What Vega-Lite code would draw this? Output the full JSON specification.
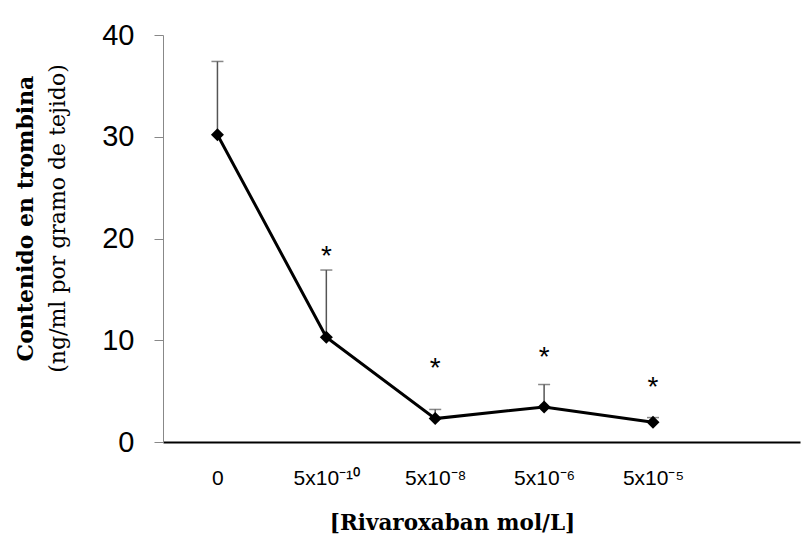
{
  "$schema": "https://vega.github.io/schema/vega-lite/v6.json",
  "width": 637,
  "height": 407,
  "autosize": {"type": "none"},
  "padding": {"left": 163, "top": 35, "right": 4, "bottom": 97},
  "background": "white",
  "config": {"view": {"stroke": null}},
  "title": {
    "text": "Contenido en trombina",
    "subtitle": "(ng/ml por gramo de tejido)",
    "orient": "left",
    "anchor": "middle",
    "font": "DejaVu Serif",
    "fontSize": 22,
    "fontWeight": "bold",
    "color": "black",
    "subtitleFont": "DejaVu Serif",
    "subtitleFontSize": 22,
    "subtitleFontWeight": "normal",
    "subtitleColor": "black",
    "subtitlePadding": 10,
    "offset": 32,
    "dx": 20
  },
  "data": {
    "values": [
      {"i": 1, "mean": 30.2, "upper": 37.4, "star": null},
      {"i": 2, "mean": 10.3, "upper": 16.9, "star": 18.7},
      {"i": 3, "mean": 2.3, "upper": 3.2, "star": 7.7},
      {"i": 4, "mean": 3.45, "upper": 5.65, "star": 8.7},
      {"i": 5, "mean": 1.95, "upper": 2.4, "star": 5.75}
    ]
  },
  "encoding": {
    "x": {
      "field": "i",
      "type": "quantitative",
      "scale": {"domain": [0.5, 6.35], "nice": false, "zero": false},
      "axis": {
        "values": [1, 2, 3, 4, 5],
        "labelExpr": "['0','5x10⁻¹⁰','5x10⁻⁸','5x10⁻⁶','5x10⁻⁵'][datum.value-1]",
        "grid": false,
        "ticks": false,
        "tickSize": 0,
        "domainColor": "black",
        "domainWidth": 2,
        "labelFont": "Liberation Sans",
        "labelFontSize": 21,
        "labelColor": "black",
        "labelPadding": 25,
        "labelOverlap": false,
        "labelFlush": false,
        "labelBound": false,
        "title": "[Rivaroxaban mol/L]",
        "titleFont": "DejaVu Serif",
        "titleFontSize": 21.5,
        "titleFontWeight": "bold",
        "titleColor": "black",
        "titleX": 289,
        "titleY": 87,
        "titleAlign": "center",
        "titleBaseline": "alphabetic"
      }
    }
  },
  "layer": [
    {
      "mark": {"type": "rule", "color": "#555555", "strokeWidth": 1.5},
      "encoding": {
        "y": {"field": "mean", "type": "quantitative", "scale": {"domain": [0, 40], "nice": false},
          "axis": {
            "values": [0, 10, 20, 30, 40],
            "grid": false,
            "domainColor": "#888888",
            "domainWidth": 1,
            "tickColor": "#888888",
            "tickSize": 9,
            "labelFont": "Liberation Sans",
            "labelFontSize": 29,
            "labelColor": "black",
            "labelPadding": 20,
            "title": null
          }
        },
        "y2": {"field": "upper"}
      }
    },
    {
      "mark": {"type": "tick", "orient": "horizontal", "color": "#555555", "size": 12, "thickness": 1.5},
      "encoding": {"y": {"field": "upper", "type": "quantitative"}}
    },
    {
      "mark": {"type": "line", "color": "black", "strokeWidth": 3},
      "encoding": {"y": {"field": "mean", "type": "quantitative"}}
    },
    {
      "mark": {"type": "point", "shape": "diamond", "filled": true, "size": 170, "color": "black", "opacity": 1},
      "encoding": {"y": {"field": "mean", "type": "quantitative"}}
    },
    {
      "transform": [{"filter": "datum.star != null"}],
      "mark": {"type": "text", "font": "Liberation Sans", "fontSize": 28, "color": "black", "baseline": "alphabetic", "dy": 13},
      "encoding": {
        "y": {"field": "star", "type": "quantitative"},
        "text": {"value": "*"}
      }
    }
  ]
}
